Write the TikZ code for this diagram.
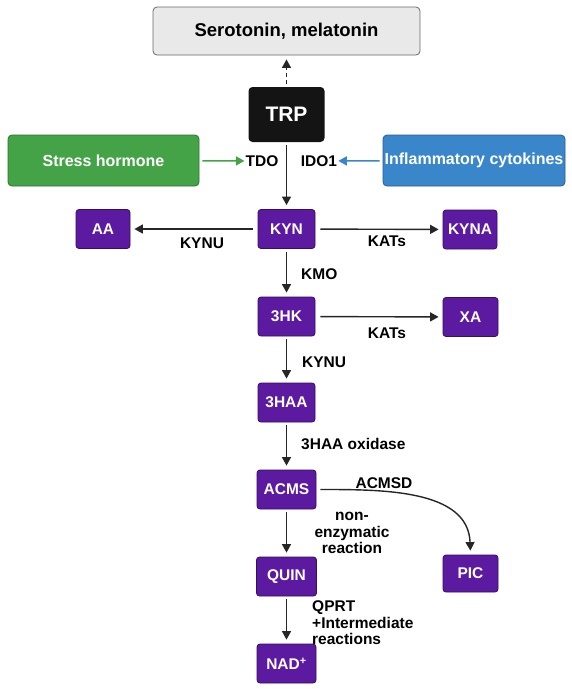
\documentclass[tikz,border=0pt]{standalone}
\usepackage{fontspec}
\setmainfont{Liberation Sans}
\usetikzlibrary{arrows.meta}

\definecolor{metpurple}{RGB}{92,26,160}
\definecolor{metedge}{RGB}{52,14,96}
\definecolor{stressgreen}{RGB}{68,163,70}
\definecolor{cytoblue}{RGB}{58,134,202}
\definecolor{serogray}{RGB}{233,233,233}
\definecolor{arrowgray}{RGB}{38,38,38}

\tikzset{
  metab/.style={draw=metedge, fill=metpurple, rounded corners=3pt, line width=0.8pt,
    text=white, font=\bfseries\fontsize{15.5}{17}\selectfont,
    minimum width=57pt, minimum height=39pt, inner sep=0pt},
  sourcebox/.style={rounded corners=4pt, line width=0.8pt, text=white,
    font=\bfseries\fontsize{16}{18}\selectfont, minimum height=51pt, inner sep=0pt},
  enz/.style={font=\bfseries\fontsize{15.5}{16.5}\selectfont, inner sep=0pt},
  flow/.style={line width=1.4pt, draw=arrowgray, -{Triangle[length=8.5pt,width=9pt]},
    shorten <=3pt, shorten >=4pt},
}

\begin{document}
\begin{tikzpicture}[x=1pt, y=-1pt]

  % Page
  \fill[white] (0,0) rectangle (572,689);

  % Top boxes
  \node[draw={rgb,255:red,105;green,105;blue,105}, fill=serogray, rounded corners=4pt, line width=0.8pt,
    minimum width=267pt, minimum height=48pt, inner sep=0pt,
    font=\bfseries\fontsize{18.5}{20}\selectfont] (sero) at (286.5,31) {Serotonin, melatonin};
  \node[fill=black!92, rounded corners=4pt, minimum width=76pt, minimum height=55pt, inner sep=0pt,
    text=white, font=\bfseries\fontsize{21}{23}\selectfont] (trp) at (286.5,114.5) {TRP};
  \node[sourcebox, draw=stressgreen!70!black, fill=stressgreen, minimum width=191pt] (stress) at (103.5,160.5) {Stress hormone};
  \node[sourcebox, draw=cytoblue!70!black, fill=cytoblue, minimum width=182pt] (infl) at (474,160.5) {Inflammatory cytokines};

  % Metabolites
  \node[metab] (kyn) at (286.5,229) {KYN};
  \node[metab, minimum width=54pt] (aa) at (103,229) {AA};
  \node[metab, minimum width=54pt] (kyna) at (470,229.5) {KYNA};
  \node[metab] (hk) at (286.5,316.5) {3HK};
  \node[metab, minimum width=55pt] (xa) at (470.5,317) {XA};
  \node[metab] (haa) at (286.5,402.5) {3HAA};
  \node[metab, minimum width=59pt] (acms) at (286.5,489.5) {ACMS};
  \node[metab, minimum width=55pt, minimum height=37pt] (pic) at (470.5,573.5) {PIC};
  \node[metab, minimum width=60pt] (quin) at (286.5,576.5) {QUIN};
  \node[metab, minimum width=59pt] (nad) at (286.5,663.5) {NAD\textsuperscript{+}};

  % Enzymes
  \node[enz] (tdo) at (262,161) {TDO};
  \node[enz] (ido) at (319,161) {IDO1};
  \node[enz] (kynuA) at (202,243) {KYNU};
  \node[enz] (katsA) at (387,241) {KATs};
  \node[enz, anchor=west] (kmo) at (301,274) {KMO};
  \node[enz] (katsB) at (387,333) {KATs};
  \node[enz, anchor=west] (kynuB) at (302,362) {KYNU};
  \node[enz, anchor=west] (oxid) at (301,444) {3HAA oxidase};
  \node[enz] (acmsd) at (384,483) {ACMSD};
  \node[enz, align=center] (nonenz) at (352,533) {non-\\enzymatic\\reaction};
  \node[enz, align=left, anchor=west] (qprt) at (312,623) {QPRT\\+Intermediate\\reactions};

  % Arrows
  \draw[flow, dashed, dash pattern=on 4pt off 3pt] (trp) -- (sero);
  \draw[flow] (trp) -- (kyn);
  \draw[flow, draw=stressgreen, shorten >=1pt] (stress) -- (tdo);
  \draw[flow, draw=cytoblue, shorten >=1pt] (infl) -- (ido);
  \draw[flow, shorten <=5pt] (kyn) -- (aa);
  \draw[flow, shorten <=5pt] (kyn) -- (kyna);
  \draw[flow] (kyn) -- (hk);
  \draw[flow, shorten <=5pt] (hk) -- (xa);
  \draw[flow] (hk) -- (haa);
  \draw[flow] (haa) -- (acms);
  \draw[flow, shorten <=4pt] (acms.east) to[out=0, in=92] (pic.north);
  \draw[flow] (acms) -- (quin);
  \draw[flow] (quin) -- (nad);

\end{tikzpicture}
\end{document}
